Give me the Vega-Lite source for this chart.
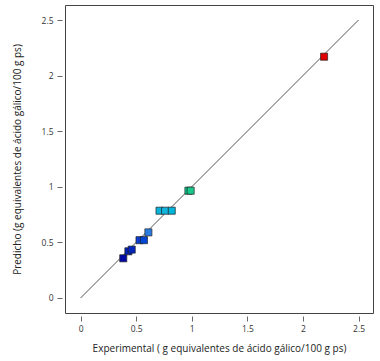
{
  "$schema": "https://vega.github.io/schema/vega-lite/v6.json",
  "width": 308,
  "height": 308,
  "autosize": {"type": "none"},
  "padding": {"left": 65, "top": 5, "right": 7, "bottom": 48},
  "background": "white",
  "config": {
    "font": "Open Sans",
    "view": {"stroke": "#444", "strokeWidth": 1},
    "axis": {
      "grid": false,
      "domain": false,
      "tickColor": "#666",
      "tickSize": 5,
      "labelFontSize": 8.5,
      "labelColor": "#333",
      "titleFontSize": 10,
      "titleFontWeight": "normal",
      "titleColor": "#222"
    }
  },
  "datasets": {
    "pts": [
      {"experimental": 0.384, "predicho": 0.357, "c": 0.36},
      {"experimental": 0.43, "predicho": 0.42, "c": 0.42},
      {"experimental": 0.46, "predicho": 0.435, "c": 0.44},
      {"experimental": 0.53, "predicho": 0.52, "c": 0.52},
      {"experimental": 0.57, "predicho": 0.52, "c": 0.53},
      {"experimental": 0.61, "predicho": 0.59, "c": 0.59},
      {"experimental": 0.71, "predicho": 0.785, "c": 0.78},
      {"experimental": 0.76, "predicho": 0.785, "c": 0.785},
      {"experimental": 0.82, "predicho": 0.785, "c": 0.79},
      {"experimental": 0.97, "predicho": 0.965, "c": 0.96},
      {"experimental": 0.99, "predicho": 0.965, "c": 0.97},
      {"experimental": 2.19, "predicho": 2.17, "c": 2.17}
    ],
    "line": [
      {"experimental": 0, "predicho": 0},
      {"experimental": 2.5, "predicho": 2.5}
    ]
  },
  "layer": [
    {
      "data": {"name": "line"},
      "mark": {"type": "line", "color": "#555", "strokeWidth": 1},
      "encoding": {
        "x": {
          "field": "experimental",
          "type": "quantitative",
          "scale": {"domain": [-0.14, 2.63], "nice": false, "zero": false},
          "axis": {
            "title": "Experimental ( g equivalentes de ácido gálico/100 g ps)",
            "values": [0, 0.5, 1, 1.5, 2, 2.5],
            "offset": 3,
            "labelPadding": 3,
            "titlePadding": 11,
            "labelExpr": "format(datum.value, '')"
          }
        },
        "y": {
          "field": "predicho",
          "type": "quantitative",
          "scale": {"domain": [-0.135, 2.635], "nice": false, "zero": false},
          "axis": {
            "title": "Predicho (g equivalentes de ácido gálico/100 g ps)",
            "values": [0, 0.5, 1, 1.5, 2, 2.5],
            "offset": 3,
            "labelPadding": 4,
            "titlePadding": 19,
            "labelExpr": "format(datum.value, '')"
          }
        }
      }
    },
    {
      "data": {"name": "pts"},
      "mark": {"type": "square", "size": 50, "opacity": 1, "filled": true, "stroke": "#222", "strokeWidth": 0.7},
      "encoding": {
        "x": {"field": "experimental", "type": "quantitative"},
        "y": {"field": "predicho", "type": "quantitative"},
        "color": {
          "field": "c",
          "type": "quantitative",
          "scale": {
            "domain": [0.36, 0.52, 0.59, 0.785, 0.965, 2.17],
            "range": ["#0008a8", "#0c3cd0", "#2a7ce0", "#12b4dc", "#18c88c", "#e00000"]
          },
          "legend": null
        }
      }
    }
  ]
}
